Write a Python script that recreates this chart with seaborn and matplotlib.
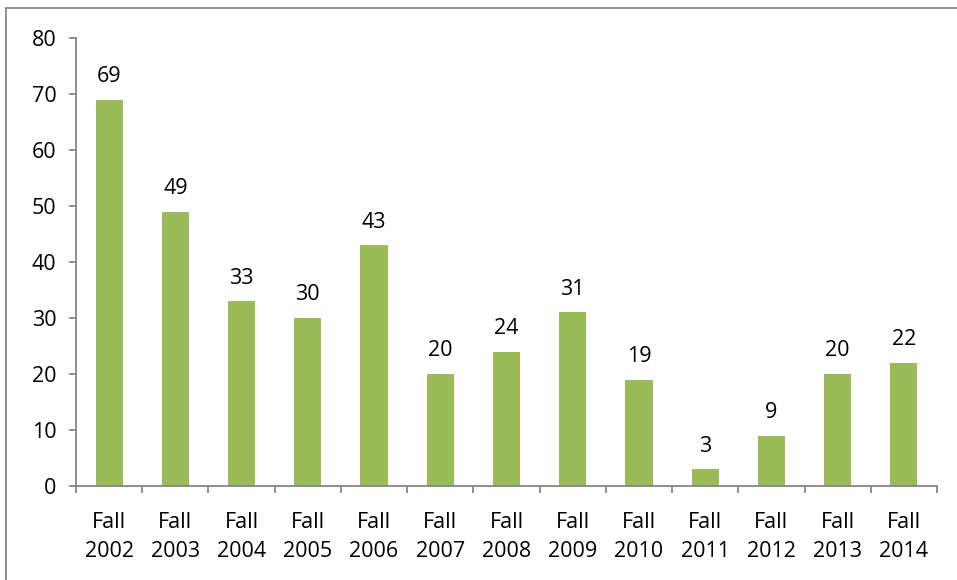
import numpy as np
import pandas as pd
import matplotlib
matplotlib.use("Agg")
import matplotlib.pyplot as plt
import seaborn as sns
from matplotlib.patches import Rectangle
from matplotlib.ticker import FixedLocator

terms = ["Fall\n2002", "Fall\n2003", "Fall\n2004", "Fall\n2005", "Fall\n2006",
         "Fall\n2007", "Fall\n2008", "Fall\n2009", "Fall\n2010", "Fall\n2011",
         "Fall\n2012", "Fall\n2013", "Fall\n2014"]
counts = [69, 49, 33, 30, 43, 20, 24, 31, 19, 3, 9, 20, 22]
y_ticks = [0, 10, 20, 30, 40, 50, 60, 70, 80]

BAR = "#9BBB59"
AXIS = "#868686"
FS = 15.5

sns.set_style("white")
plt.rcParams['font.family'] = ['Open Sans', 'DejaVu Sans']

df = pd.DataFrame({"term": terms, "count": counts})

fig = plt.figure(figsize=(9.57, 5.8), dpi=100)
ax = fig.add_axes([76 / 957, 1 - 486 / 580, (937 - 76) / 957, (486 - 38) / 580])

sns.barplot(data=df, x="term", y="count", color=BAR, width=0.41,
            saturation=1, linewidth=0, ax=ax)

for i, v in enumerate(counts):
    ax.annotate(str(v), (i, v), xytext=(0, 9), textcoords="offset points",
                ha="center", va="bottom", fontsize=FS, color="black")

ax.set_xlim(-0.5, len(terms) - 0.5)
ax.set_ylim(0, 80)
ax.set_yticks(y_ticks)
ax.set_xlabel("")
ax.set_ylabel("")

for s in ["top", "right"]:
    ax.spines[s].set_visible(False)
for s in ["left", "bottom"]:
    ax.spines[s].set_color(AXIS)
    ax.spines[s].set_linewidth(1.3)

ax.xaxis.set_minor_locator(FixedLocator(np.arange(-0.5, len(terms), 1)))
ax.tick_params(axis="x", which="major", length=0, pad=19, labelsize=FS,
               labelcolor="black")
ax.tick_params(axis="x", which="minor", length=5, width=1.3, color=AXIS,
               direction="out", bottom=True)
ax.tick_params(axis="y", length=5, width=1.3, color=AXIS, direction="out",
               left=True, pad=9, labelsize=FS, labelcolor="black")
for lab in ax.get_xticklabels():
    lab.set_linespacing(1.5)

fig.patches.append(Rectangle((6 / 957, -0.1), 1.2, 1 - 8 / 580 + 0.1,
                             transform=fig.transFigure, fill=False,
                             edgecolor=AXIS, linewidth=1.3))

fig.savefig("out.png", dpi=100)
